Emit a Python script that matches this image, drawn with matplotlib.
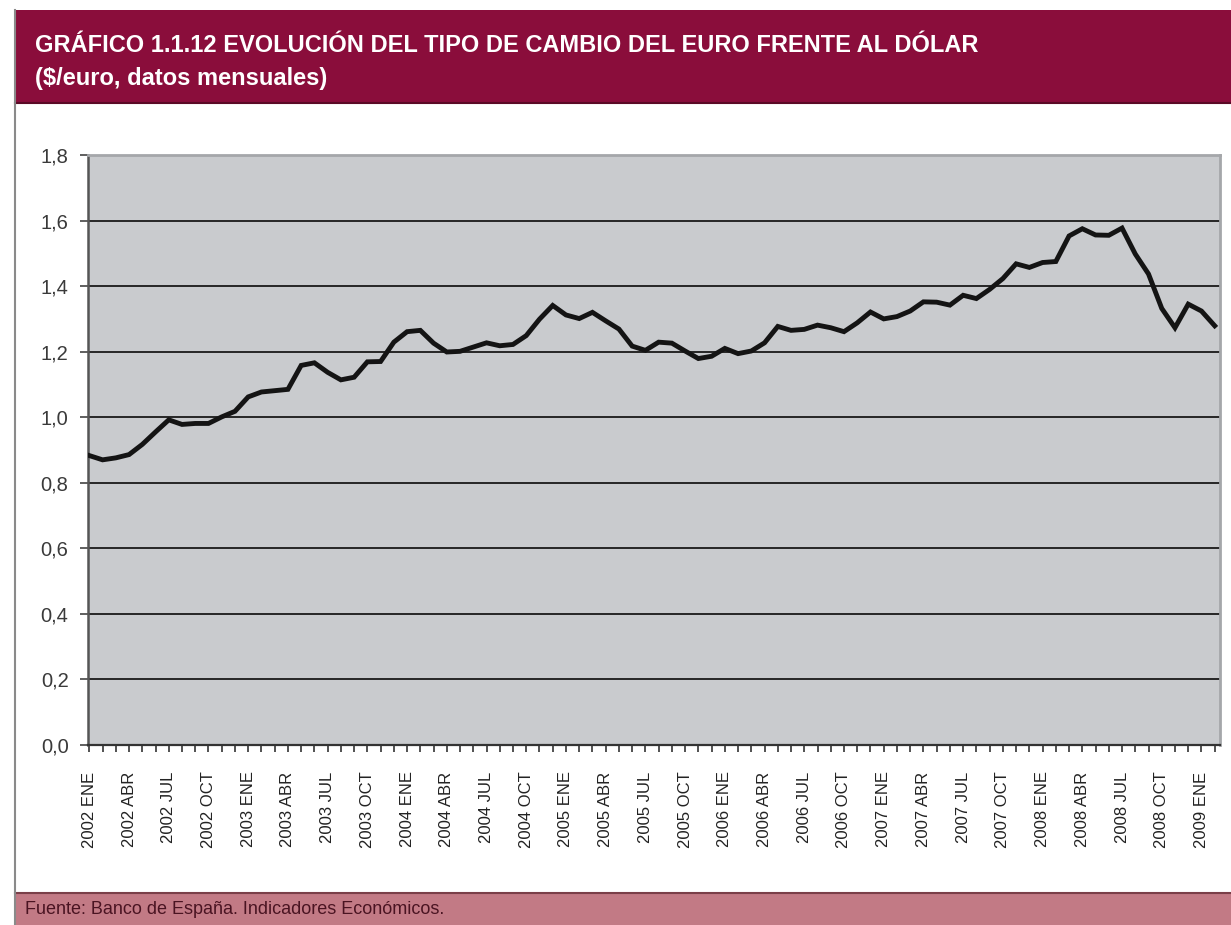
import matplotlib.pyplot as plt
from matplotlib import font_manager
from matplotlib.patches import Rectangle
from matplotlib.lines import Line2D

# tipo de cambio $/euro, medias mensuales, 2002 ENE - 2009 FEB
years = list(range(2002, 2010))
meses = ["ENE", "FEB", "MAR", "ABR", "MAY", "JUN", "JUL", "AGO", "SEP", "OCT", "NOV", "DIC"]
tipo = [
    0.883, 0.870, 0.876, 0.886, 0.917, 0.955, 0.992, 0.978, 0.981, 0.981, 1.001, 1.018,
    1.062, 1.077, 1.081, 1.085, 1.158, 1.166, 1.137, 1.114, 1.122, 1.169, 1.170, 1.229,
    1.261, 1.265, 1.226, 1.199, 1.201, 1.214, 1.227, 1.218, 1.222, 1.249, 1.299, 1.341,
    1.312, 1.301, 1.320, 1.294, 1.269, 1.217, 1.204, 1.229, 1.226, 1.202, 1.179, 1.186,
    1.210, 1.194, 1.202, 1.227, 1.277, 1.265, 1.268, 1.281, 1.273, 1.261, 1.288, 1.321,
    1.300, 1.307, 1.324, 1.352, 1.351, 1.342, 1.372, 1.362, 1.390, 1.423, 1.468, 1.457,
    1.472, 1.475, 1.553, 1.575, 1.556, 1.555, 1.577, 1.498, 1.437, 1.332, 1.273, 1.345,
    1.324, 1.279,
]
yticks = [0.0, 0.2, 0.4, 0.6, 0.8, 1.0, 1.2, 1.4, 1.6, 1.8]

etiquetas = [f"{y} {m}" for y in years for m in meses][:len(tipo)]
x = list(range(len(tipo)))

avail = {f.name for f in font_manager.fontManager.ttflist}
narrow = "Liberation Sans Narrow" if "Liberation Sans Narrow" in avail else "Liberation Sans"
plt.rcParams["font.family"] = ["Liberation Sans", "DejaVu Sans"]

W, H = 1231, 925
fig = plt.figure(figsize=(W / 100, H / 100), dpi=100)
fig.patch.set_facecolor("white")

# bandas de titulo y fuente
fig.patches.append(Rectangle((15 / W, 1 - 103 / H), 1, 93 / H, transform=fig.transFigure,
                             facecolor="#8a0d3b", edgecolor="none", zorder=0))
fig.lines.append(Line2D([15 / W, 1], [1 - 103 / H] * 2, transform=fig.transFigure,
                        color="#5a0a26", lw=1.5))
fig.patches.append(Rectangle((15 / W, 0), 1, 32 / H, transform=fig.transFigure,
                             facecolor="#c27a85", edgecolor="none", zorder=0))
fig.lines.append(Line2D([15 / W, 1], [32 / H] * 2, transform=fig.transFigure,
                        color="#7a3f48", lw=1.5))
fig.lines.append(Line2D([15 / W] * 2, [0, 1 - 10 / H], transform=fig.transFigure,
                        color="#8a8a8a", lw=1.5))

fig.text(35 / W, 1 - 45 / H, "GRÁFICO 1.1.12 EVOLUCIÓN DEL TIPO DE CAMBIO DEL EURO FRENTE AL DÓLAR",
         family=[narrow, "DejaVu Sans"], fontsize=17, fontweight="bold", color="white", va="center")
fig.text(35 / W, 1 - 79 / H, "($/euro, datos mensuales)",
         family=[narrow, "DejaVu Sans"], fontsize=17, fontweight="bold", color="white", va="center")
fig.text(25 / W, 1 - 910 / H, "Fuente: Banco de España. Indicadores Económicos.",
         family=[narrow, "DejaVu Sans"], fontsize=13, color="#4a1422", va="center")

ax = fig.add_axes([88 / W, 1 - 745 / H, (1220 - 88) / W, (745 - 155) / H])
ax.set_facecolor("#c9cbce")
ax.plot(x, tipo, color="#141414", lw=3.5, solid_joinstyle="miter", zorder=3)

ax.set_xlim(-0.1, len(tipo) - 0.6)
ax.set_ylim(0, 1.8)
ax.set_yticks(yticks)
ax.set_yticklabels([f"{v:.1f}".replace(".", ",") for v in yticks])
ax.set_axisbelow(True)
ax.yaxis.grid(True, color="#262626", lw=1.4)

ax.set_xticks(x[::3])
ax.set_xticklabels(etiquetas[::3], rotation=90, family=[narrow, "DejaVu Sans"], fontsize=12,
                   color="#222222")
ax.set_xticks(x, minor=True)
ax.tick_params(axis="x", which="both", length=5, width=1.2, color="#333333", pad=14)
ax.tick_params(axis="y", length=6, width=1.2, color="#444444", labelsize=14.5,
               labelcolor="#3a3a3a", pad=8)

ax.spines["left"].set_color("#555555")
ax.spines["left"].set_linewidth(1.8)
ax.spines["bottom"].set_color("#333333")
ax.spines["bottom"].set_linewidth(1.6)
ax.spines["top"].set_color("#a5a7aa")
ax.spines["top"].set_linewidth(2)
ax.spines["right"].set_color("#a5a7aa")
ax.spines["right"].set_linewidth(2)

plt.savefig("out.png", dpi=100)
